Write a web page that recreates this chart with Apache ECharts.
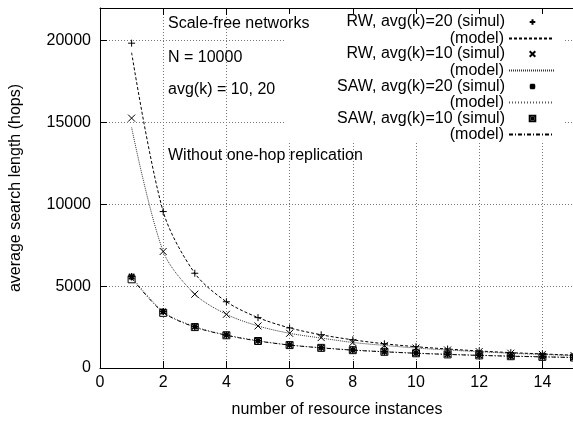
<!DOCTYPE html>
<html><head><meta charset="utf-8">
<script src="https://cdn.jsdelivr.net/npm/echarts@6/dist/echarts.min.js"></script>
<style>html,body{margin:0;padding:0;background:#fff}#c{width:573px;height:421px}</style>
</head><body><div id="c"></div>
<script>
const xValues = [1,2,3,4,5,6,7,8,9,10,11,12,13,14,15];
const rw20Simul  = [19850, 9560, 5790, 4050, 3080, 2450, 2030, 1720, 1480, 1300, 1160, 1040, 940, 860, 780];
const rw20Model  = [19270, 9560, 5790, 4050, 3080, 2450, 2030, 1720, 1480, 1300, 1160, 1040, 940, 860, 780];
const rw10Simul  = [15270, 7120, 4510, 3280, 2570, 2120, 1860, 1560, 1380, 1220, 1100, 1000, 900, 830, 760];
const rw10Model  = [14700, 7120, 4510, 3280, 2570, 2120, 1830, 1560, 1380, 1220, 1100, 1000, 900, 830, 760];
const saw20Simul = [5590, 3450, 2530, 2020, 1670, 1410, 1240, 1100, 1000, 910, 840, 780, 730, 690, 650];
const saw20Model = [5590, 3450, 2530, 2020, 1670, 1410, 1240, 1100, 1000, 910, 840, 780, 730, 690, 650];
const saw10Simul = [5420, 3370, 2500, 2000, 1650, 1400, 1230, 1090, 990, 900, 830, 770, 720, 680, 640];
const saw10Model = [5500, 3400, 2500, 2000, 1650, 1400, 1230, 1090, 990, 900, 830, 770, 720, 680, 640];
const xTicks = [0,2,4,6,8,10,12,14];
const yTicks = [0,5000,10000,15000,20000];
const notes = ['Scale-free networks', 'N = 10000', 'avg(k) = 10, 20', 'Without one-hop replication'];

const FONT = '"Liberation Sans", Arial, Helvetica, sans-serif';
const pts = ys => xValues.map((x,i)=>[x, ys[i]]);

const SYM_PLUS = 'path://M0,5L10,5M5,0L5,10';
const SYM_X = 'path://M0,0L10,10M0,10L10,0';
const SYM_STAR = 'path://M0,5L10,5M5,0L5,10M1,1L9,9M1,9L9,1M3,3L7,3L7,7L3,7Z';
const SYM_BOX = 'path://M0,0L10,0L10,10L0,10ZM4,4L6,4L6,6L4,6Z';

function simul(name, ys, sym, size, bw) {
  return {
    name, type: 'line', data: pts(ys), symbol: sym, symbolSize: size, showSymbol: true, showAllSymbol: true,
    lineStyle: {width: 0, opacity: 0},
    itemStyle: {color: 'none', borderColor: '#000', borderWidth: bw},
    z: 4, silent: true
  };
}
function model(name, ys, dash, color) {
  return {
    name, type: 'line', data: pts(ys), symbol: 'none', smooth: 0.3,
    lineStyle: {width: 1, color: color, type: dash},
    itemStyle: {color: color},
    z: 3, silent: true
  };
}

const series = [
  simul('RW, avg(k)=20 (simul)', rw20Simul, SYM_PLUS, 7, 1),
  model('RW, avg(k)=20 (model)', rw20Model, [3,2], '#000'),
  simul('RW, avg(k)=10 (simul)', rw10Simul, SYM_X, 7, 1),
  model('RW, avg(k)=10 (model)', rw10Model, [1,1], '#333'),
  simul('SAW, avg(k)=20 (simul)', saw20Simul, SYM_STAR, 7, 1.5),
  model('SAW, avg(k)=20 (model)', saw20Model, [1,2], '#555'),
  simul('SAW, avg(k)=10 (simul)', saw10Simul, SYM_BOX, 7, 1),
  model('SAW, avg(k)=10 (model)', saw10Model, [4,2,1,2], '#000'),
];

const legendCenters = [22, 38.5, 54, 70.5, 86.5, 102.5, 118.5, 134.5];
const legends = series.map((s, i) => {
  const isModel = s.name.indexOf('(model)') >= 0;
  const lg = {
    data: [s.name],
    orient: 'vertical',
    align: 'right',
    right: 18,
    top: legendCenters[i] - 9,
    padding: 0,
    itemWidth: 45,
    itemHeight: 7,
    selectedMode: false,
    formatter: n => n.indexOf('(model)') >= 0 ? '(model)' : n,
    textStyle: {fontFamily: FONT, fontSize: 16, color: '#000', lineHeight: 18}
  };
  if (isModel) lg.itemStyle = {color: 'rgba(0,0,0,0)', borderColor: 'rgba(0,0,0,0)', borderWidth: 0, opacity: 0};
  return lg;
});

const noteY = [24, 58, 90, 156];

const chart = echarts.init(document.getElementById('c'), null, {renderer: 'canvas'});
chart.setOption({
  animation: false,
  backgroundColor: '#fff',
  grid: {left: 100, right: -1, top: 8, bottom: 53, containLabel: false, outerBoundsMode: 'none'},
  xAxis: [{
    type: 'value', min: 0, max: 15, interval: 2, position: 'bottom',
    name: 'number of resource instances', nameLocation: 'middle', nameGap: 34,
    nameTextStyle: {fontFamily: FONT, fontSize: 16, color: '#000'},
    axisLine: {show: true, lineStyle: {color: '#000', width: 1}},
    axisTick: {show: true, inside: true, length: 7, lineStyle: {color: '#000'}},
    axisLabel: {fontFamily: FONT, fontSize: 16, color: '#000', margin: 7, showMaxLabel: false,
      formatter: v => xTicks.indexOf(v) >= 0 ? String(v) : ''},
    splitLine: {show: true, lineStyle: {color: '#777', type: [1,2], width: 1}}
  }, {
    type: 'value', min: 0, max: 15, interval: 2, position: 'top',
    axisLine: {show: true, lineStyle: {color: '#000', width: 1}},
    axisTick: {show: true, inside: true, length: 7, lineStyle: {color: '#000'}},
    axisLabel: {show: false}, splitLine: {show: false}
  }],
  yAxis: [{
    type: 'value', min: 0, max: 22000, interval: 5000,
    name: 'average search length (hops)', nameLocation: 'middle', nameGap: 76, nameRotate: 90,
    nameTextStyle: {fontFamily: FONT, fontSize: 16, color: '#000'},
    axisLine: {show: true, lineStyle: {color: '#000', width: 1}},
    axisTick: {show: true, inside: true, length: 7, lineStyle: {color: '#000'}},
    axisLabel: {fontFamily: FONT, fontSize: 16, color: '#000', margin: 9, showMaxLabel: false,
      formatter: v => yTicks.indexOf(v) >= 0 ? String(v) : ''},
    splitLine: {show: true, lineStyle: {color: '#777', type: [1,2], width: 1}}
  }],
  legend: legends,
  graphic: [
    {type: 'rect', z: 1, shape: {x: 285, y: 14, width: 280, height: 128}, style: {fill: '#fff'}, silent: true},
    ...notes.map((t, i) => ({
      type: 'text', z: 5, x: 168, y: noteY[i],
      style: {text: t, font: '16px ' + FONT, fill: '#000', textVerticalAlign: 'middle', verticalAlign: 'middle'},
      silent: true
    }))
  ],
  series: series
});
</script></body></html>
